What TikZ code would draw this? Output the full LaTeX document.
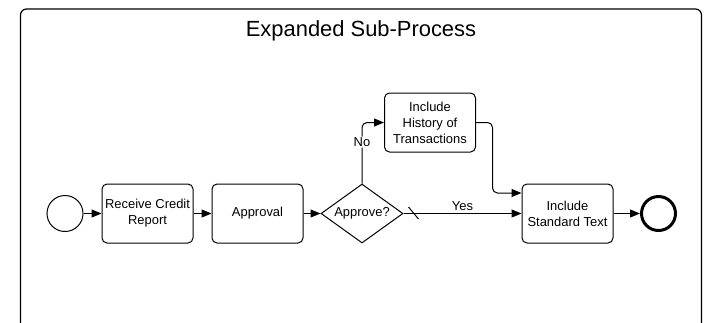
\documentclass[tikz,border=0pt]{standalone}
\usepackage{fontspec}
\setmainfont{Liberation Sans}
\usetikzlibrary{shapes.geometric}
\usetikzlibrary{arrows.meta}

\begin{document}
\begin{tikzpicture}[x=1bp, y=-1bp, line width=1bp, font=\fontsize{13}{16}\selectfont,
	tsk/.style={draw, rounded corners=5bp, minimum width=91bp, minimum height=59bp, align=center, inner sep=1bp},
	gtw/.style={draw, shape=diamond, aspect=1.39, inner sep=0pt, minimum width=82bp, minimum height=59bp},
	strt/.style={draw, shape=circle, minimum size=36bp, inner sep=0pt},
	fin/.style={draw, shape=circle, line width=3bp, minimum size=34bp, inner sep=0pt},
	flw/.style={-{Triangle[length=10bp,width=8bp]}}]
	\useasboundingbox (0,0) rectangle (704,322);
	\draw[line width=1.2bp, rounded corners=6bp] (20.5,330) -- (20.5,9) -- (701.5,9) -- (701.5,330);
	\node[font=\fontsize{22}{26}\selectfont, anchor=base] (ttl) at (361,36) {Expanded Sub-Process};
	\node[strt] (strt) at (65,213.5) {};
	\node[tsk] (recv) at (147.5,213.5) {Receive Credit\\Report};
	\node[tsk] (appr) at (257.5,213.5) {Approval};
	\node[gtw] (gate) at (362,213.5) {Approve?};
	\node[tsk] (hist) at (430,122.5) {Include\\History of\\Transactions};
	\node[tsk] (stnd) at (567.5,213.5) {Include\\Standard Text};
	\node[fin] (stop) at (658.5,213.5) {};
	\draw[flw] (strt) to (recv);
	\draw[flw] (recv) to (appr);
	\draw[flw] (appr) to (gate);
	\draw[flw] (gate) to node[above, inner sep=2bp] {Yes} (stnd);
	\draw ([xshift=5bp,yshift=6.5bp]gate.east) to ([xshift=15bp,yshift=-5.5bp]gate.east);
	\draw[flw, rounded corners=5bp] (gate.north) |- node[pos=0.34, fill=white, inner sep=1bp] {No} (hist.west);
	\draw[flw, rounded corners=5bp] (hist.east) -| ([xshift=-29bp,yshift=20.5bp]stnd.west) -- ([yshift=20.5bp]stnd.west);
	\draw[flw] (stnd) to (stop);
\end{tikzpicture}
\end{document}
